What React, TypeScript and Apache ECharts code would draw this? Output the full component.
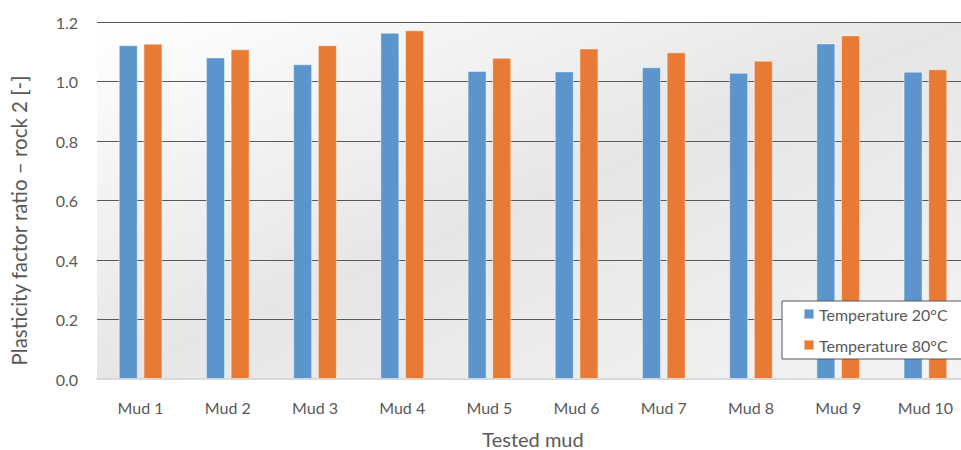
import React, { useEffect, useRef } from "react";
import * as echarts from "echarts";

const categories = ["Mud 1", "Mud 2", "Mud 3", "Mud 4", "Mud 5", "Mud 6", "Mud 7", "Mud 8", "Mud 9", "Mud 10"];
const temp20 = [1.122, 1.081, 1.058, 1.164, 1.035, 1.034, 1.048, 1.029, 1.128, 1.033];
const temp80 = [1.127, 1.108, 1.122, 1.172, 1.080, 1.111, 1.098, 1.070, 1.155, 1.041];
const seriesNames = ["Temperature 20°C", "Temperature 80°C"];
const yTicks = { min: 0, max: 1.2, interval: 0.2 };

const FONT = "Lato, 'Open Sans', sans-serif";
const TEXT = "#595959";

if (typeof document !== "undefined") {
  document.body.style.margin = "0";
}

export default function App() {
  const ref = useRef<HTMLDivElement>(null);
  useEffect(() => {
    if (!ref.current) return;
    const chart = echarts.init(ref.current, null, { renderer: "svg" });
    chart.setOption({
      animation: false,
      textStyle: { fontFamily: FONT },
      grid: {
        left: 97,
        right: -8,
        top: 22,
        bottom: 71,
        outerBoundsMode: "none",
        containLabel: false,
        show: true,
        borderWidth: 0,
        backgroundColor: new echarts.graphic.LinearGradient(0, 0, 1, 1, [
          { offset: 0, color: "#ffffff" },
          { offset: 0.5, color: "#e6e6e6" },
          { offset: 1, color: "#f4f4f4" },
        ]),
      },
      legend: {
        orient: "vertical",
        left: 782,
        top: 301,
        padding: [4, 40, 5, 21],
        itemWidth: 10,
        itemHeight: 10,
        itemGap: 13,
        icon: "rect",
        backgroundColor: "#ffffff",
        borderColor: "#595959",
        borderWidth: 1,
        borderRadius: 0,
        textStyle: { fontFamily: FONT, fontSize: 16, color: TEXT, lineHeight: 18 },
        data: seriesNames,
      },
      xAxis: {
        type: "category",
        data: categories,
        name: "Tested mud",
        nameLocation: "middle",
        nameGap: 50,
        nameTextStyle: { fontFamily: FONT, fontSize: 20, color: TEXT, lineHeight: 20 },
        axisLine: { show: true, lineStyle: { color: "#d9d9d9", width: 2 } },
        axisTick: { show: false },
        axisLabel: { fontFamily: FONT, fontSize: 16, color: TEXT, margin: 20 },
      },
      yAxis: {
        type: "value",
        min: yTicks.min,
        max: yTicks.max,
        interval: yTicks.interval,
        name: "Plasticity factor ratio – rock 2 [-]",
        nameLocation: "middle",
        nameGap: 68,
        nameTextStyle: { fontFamily: FONT, fontSize: 20.5, color: TEXT, padding: [0, 40, 0, 0] },
        axisLine: { show: false },
        axisTick: { show: false },
        axisLabel: {
          fontFamily: FONT,
          fontSize: 16,
          color: TEXT,
          margin: 19,
          formatter: (v: number) => v.toFixed(1),
        },
        splitLine: { show: true, lineStyle: { color: "#595959", width: 1 } },
      },
      series: [
        {
          name: seriesNames[0],
          type: "bar",
          data: temp20,
          barWidth: 19,
          barGap: "30%",
          itemStyle: { color: "#5b95cc", borderColor: "rgba(255,255,255,0.45)", borderWidth: 1 },
        },
        {
          name: seriesNames[1],
          type: "bar",
          data: temp80,
          barWidth: 19,
          barGap: "30%",
          itemStyle: { color: "#e77b35", borderColor: "rgba(255,255,255,0.45)", borderWidth: 1 },
        },
      ],
    });
    return () => chart.dispose();
  }, []);
  return <div ref={ref} style={{ width: 961, height: 450 }} />;
}
